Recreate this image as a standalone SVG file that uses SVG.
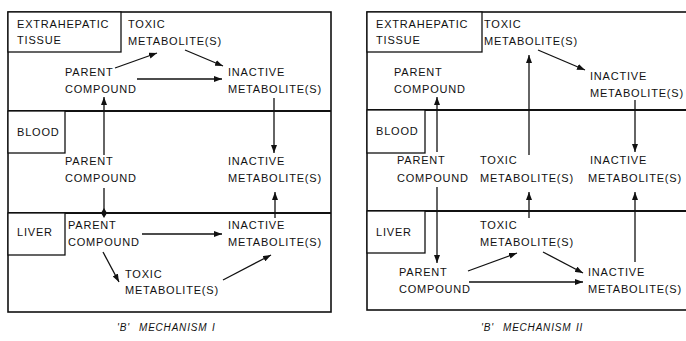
<svg xmlns="http://www.w3.org/2000/svg" width="686" height="341" viewBox="0 0 686 341">
<style>
text{font-family:"Liberation Sans",Arial,sans-serif;font-size:11px;letter-spacing:0.8px;fill:#111}
.cap{font-size:10px;font-style:italic;letter-spacing:0.8px}
.frame{fill:none;stroke:#111;stroke-width:1.6}
.div{stroke:#111;stroke-width:1.8}
.lbl{fill:#fff;stroke:#111;stroke-width:1.3}
.c{fill:none;stroke:#111;stroke-width:1.3}
.a{marker-end:url(#ah)}
</style>
<defs>
<marker id="ah" viewBox="0 0 8 6" refX="8" refY="3" markerWidth="8" markerHeight="6" markerUnits="userSpaceOnUse" orient="auto">
<path d="M0,0 L8,3 L0,6 Z" fill="#111"/>
</marker>
</defs>
<rect width="686" height="341" fill="#fff"/>

<g id="panel-1">
<rect class="frame" x="8" y="12" width="323" height="300"/>
<line class="div" x1="8" y1="111" x2="331" y2="111"/>
<line class="div" x1="8" y1="213" x2="331" y2="213"/>
</g>
<g id="panel-2">
<rect class="frame" x="367" y="12" width="330" height="298"/>
<line class="div" x1="367" y1="110" x2="686" y2="110"/>
<line class="div" x1="367" y1="211" x2="686" y2="211"/>
</g>

<g id="l-tissue-label"><rect class="lbl" x="8" y="12" width="113" height="40"/><text x="17" y="28">EXTRAHEPATIC</text><text x="17" y="44">TISSUE</text></g>
<g id="l-blood-label"><rect class="lbl" x="8" y="111" width="57" height="42"/><text x="17" y="136">BLOOD</text></g>
<g id="l-liver-label"><rect class="lbl" x="8" y="213" width="57" height="42"/><text x="17" y="236">LIVER</text></g>

<g id="l-t-toxic"><text x="128" y="28">TOXIC</text><text x="128" y="45">METABOLITE(S)</text></g>
<g id="l-t-parent"><text x="65" y="76">PARENT</text><text x="65" y="93">COMPOUND</text></g>
<g id="l-t-inactive"><text x="228" y="76">INACTIVE</text><text x="228" y="93">METABOLITE(S)</text></g>
<g id="l-b-parent"><text x="65" y="165">PARENT</text><text x="65" y="182">COMPOUND</text></g>
<g id="l-b-inactive"><text x="228" y="165">INACTIVE</text><text x="228" y="182">METABOLITE(S)</text></g>
<g id="l-l-parent"><text x="68" y="229">PARENT</text><text x="68" y="246">COMPOUND</text></g>
<g id="l-l-inactive"><text x="228" y="229">INACTIVE</text><text x="228" y="246">METABOLITE(S)</text></g>
<g id="l-l-toxic"><text x="125" y="278">TOXIC</text><text x="125" y="294">METABOLITE(S)</text></g>

<g id="r-tissue-label"><rect class="lbl" x="367" y="12" width="115" height="40"/><text x="376" y="28">EXTRAHEPATIC</text><text x="376" y="44">TISSUE</text></g>
<g id="r-blood-label"><rect class="lbl" x="367" y="110" width="58" height="43"/><text x="376" y="135">BLOOD</text></g>
<g id="r-liver-label"><rect class="lbl" x="367" y="211" width="58" height="42"/><text x="376" y="236">LIVER</text></g>

<g id="r-t-toxic"><text x="484" y="28">TOXIC</text><text x="484" y="45">METABOLITE(S)</text></g>
<g id="r-t-parent"><text x="394" y="76">PARENT</text><text x="394" y="93">COMPOUND</text></g>
<g id="r-t-inactive"><text x="590" y="80">INACTIVE</text><text x="590" y="97">METABOLITE(S)</text></g>
<g id="r-b-parent"><text x="397" y="164">PARENT</text><text x="397" y="182">COMPOUND</text></g>
<g id="r-b-toxic"><text x="480" y="164">TOXIC</text><text x="480" y="182">METABOLITE(S)</text></g>
<g id="r-b-inactive"><text x="590" y="164">INACTIVE</text><text x="588" y="182">METABOLITE(S)</text></g>
<g id="r-l-toxic"><text x="480" y="229">TOXIC</text><text x="480" y="246">METABOLITE(S)</text></g>
<g id="r-l-parent"><text x="399" y="276">PARENT</text><text x="399" y="293">COMPOUND</text></g>
<g id="r-l-inactive"><text x="588" y="276">INACTIVE</text><text x="588" y="293">METABOLITE(S)</text></g>

<g id="connectors">
<path class="c a" d="M115,68 L157,53"/>
<path class="c a" d="M185,50 L223,66"/>
<path class="c a" d="M137,79 L222,79"/>
<path class="c a" d="M274,98 L274,153"/>
<path class="c a" d="M104,155 L104,97"/>
<path class="c" d="M104,188 L104,213"/>
<path d="M104,208 L107,213 L104,218 L101,213 Z" fill="#111"/>
<path class="c a" d="M275,218 L275,192"/>
<path class="c a" d="M142,234 L222,234"/>
<path class="c a" d="M103,252 L119,282"/>
<path class="c a" d="M223,280 L271,255"/>

<path class="c a" d="M538,50 L585,70"/>
<path class="c a" d="M529,155 L529,55"/>
<path class="c a" d="M437,152 L437,97"/>
<path class="c a" d="M635,100 L635,152"/>
<path class="c a" d="M437,187 L437,263"/>
<path class="c a" d="M529,218 L529,192"/>
<path class="c a" d="M635,262 L635,192"/>
<path class="c a" d="M468,271 L517,253"/>
<path class="c a" d="M543,252 L583,273"/>
<path class="c a" d="M469,282 L583,282"/>
</g>

<g id="captions">
<text class="cap" x="117" y="331">'B'</text><text class="cap" x="139" y="331">MECHANISM</text><text class="cap" x="212" y="331">I</text>
<text class="cap" x="481" y="331">'B'</text><text class="cap" x="503" y="331">MECHANISM</text><text class="cap" x="576" y="331">II</text>
</g>
</svg>
